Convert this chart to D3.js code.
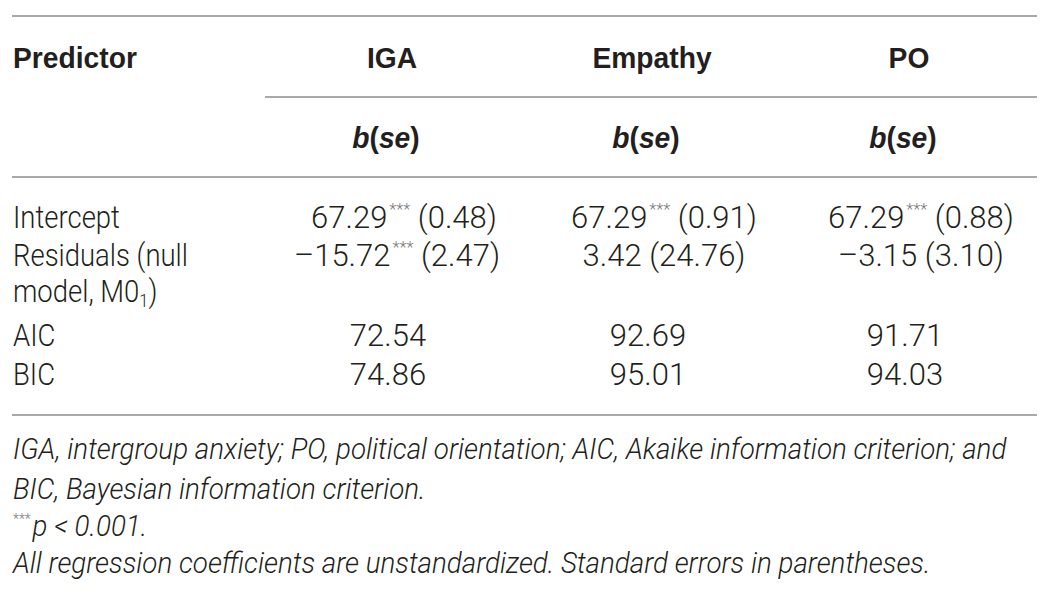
<!DOCTYPE html>
<html>
<head>
<meta charset="utf-8">
<script src="https://cdn.jsdelivr.net/npm/d3@7"></script>
<style>
  html, body { margin: 0; padding: 0; background: #ffffff; }
  svg { display: block; }
</style>
</head>
<body>
<svg id="chart" width="1052" height="596"></svg>
<script>
// ---- data ----
const columns = ["IGA", "Empathy", "PO"];
const rowLabels = ["Intercept", "Residuals (null", "model, M0", "AIC", "BIC"];
const coefB = [[67.29, 67.29, 67.29], [-15.72, 3.42, -3.15]];
const coefSE = [[0.48, 0.91, 0.88], [2.47, 24.76, 3.10]];
const coefSig = [[true, true, true], [true, false, false]];
const aicValues = [72.54, 92.69, 91.71];
const bicValues = [74.86, 95.01, 94.03];
const footnotes = [
  "IGA, intergroup anxiety; PO, political orientation; AIC, Akaike information criterion; and",
  "BIC, Bayesian information criterion.",
  "p < 0.001.",
  "All regression coefficients are unstandardized. Standard errors in parentheses."
];

// ---- layout ----
const svg = d3.select("#chart");
const ink = "#231f20";
const ruleColor = "#8c8c8c";
const left = 12, right = 1037;
const x = d3.scaleOrdinal().domain(columns).range([392, 652, 909]);
const rowBase = [228, 266, 302, 346, 385];
const rowY = i => rowBase[i];
const fmt = v => (v < 0 ? "\u2013" + d3.format(".2f")(-v) : d3.format(".2f")(v));

const bodyFont = "'Helvetica Neue', Roboto, 'Liberation Sans', Arial, sans-serif";
const boldFont = "'Liberation Sans', Arial, sans-serif";

// rules
const rules = [
  {y: 16, x1: left, x2: right},
  {y: 97, x1: 265, x2: right},
  {y: 177, x1: left, x2: right},
  {y: 415, x1: left, x2: right}
];
svg.selectAll("line.rule").data(rules).join("line")
  .attr("class", "rule")
  .attr("x1", d => d.x1).attr("x2", d => d.x2)
  .attr("y1", d => d.y).attr("y2", d => d.y)
  .attr("stroke", ruleColor).attr("stroke-width", 1.6);

function scaled(sel, sx) {
  sel.attr("transform", function() {
    const px = +this.getAttribute("data-x"), py = +this.getAttribute("data-y");
    return `translate(${px},${py}) scale(${sx},1)`;
  });
}

// header
const hdr = svg.append("g").attr("font-family", boldFont).attr("font-weight", 700)
  .attr("font-size", 29).attr("fill", ink);
hdr.append("text").attr("data-x", 13).attr("data-y", 68).text("Predictor");
hdr.selectAll("text.col").data(columns).join("text").attr("class", "col")
  .attr("text-anchor", "middle")
  .attr("data-x", d => x(d)).attr("data-y", 68).text(d => d);
const sub = hdr.selectAll("text.sub").data(columns).join("text").attr("class", "sub")
  .attr("text-anchor", "middle")
  .attr("data-x", d => x(d) - 6).attr("data-y", 148);
sub.append("tspan").attr("font-style", "italic").text("b");
sub.append("tspan").text("(");
sub.append("tspan").attr("font-style", "italic").text("se");
sub.append("tspan").text(")");
{
  const w = hdr.select("text").node().getComputedTextLength();
  scaled(hdr.selectAll("text"), 124 / w);
}

// body labels
const body = svg.append("g").attr("font-family", bodyFont).attr("font-weight", 300)
  .attr("font-size", 32).attr("fill", ink);
const labels = body.selectAll("text.lab").data(rowLabels).join("text").attr("class", "lab")
  .attr("data-x", 13).attr("data-y", (d, i) => rowY(i));
labels.text(d => d);
labels.filter((d, i) => i === 2).append("tspan").attr("font-size", 19).attr("dy", 5).text("1");
labels.filter((d, i) => i === 2).append("tspan").attr("dy", -5).text(")");
{
  const w = labels.filter((d, i) => i === 1).node().getComputedTextLength();
  scaled(labels, 175 / w);
}

// coefficient cells
const coefCells = [];
coefB.forEach((row, r) => row.forEach((b, c) => coefCells.push({r, c, b, se: coefSE[r][c], sig: coefSig[r][c]})));
const cc = body.selectAll("text.coef").data(coefCells).join("text").attr("class", "coef")
  .attr("text-anchor", "middle")
  .attr("data-x", d => x(columns[d.c]) + (d.r === 1 && d.c === 0 ? 5 : 12)).attr("data-y", d => rowY(d.r));
cc.append("tspan").text(d => fmt(d.b));
cc.filter(d => d.sig).append("tspan").attr("font-size", 17).attr("dy", -13).attr("dx", 2)
  .attr("fill", "#777").text("***");
cc.filter(d => d.sig).append("tspan").attr("dy", 13).text(d => " (" + fmt(d.se) + ")");
cc.filter(d => !d.sig).append("tspan").text(d => " (" + fmt(d.se) + ")");

const fitCells = [
  ...aicValues.map((v, c) => ({v, c, r: 3})),
  ...bicValues.map((v, c) => ({v, c, r: 4}))
];
const fc = body.selectAll("text.fit").data(fitCells).join("text").attr("class", "fit")
  .attr("text-anchor", "middle")
  .attr("data-x", d => x(columns[d.c]) - 4).attr("data-y", d => rowY(d.r))
  .text(d => fmt(d.v));
{
  const w = cc.node().getComputedTextLength();
  const sx = 184 / w;
  scaled(cc, sx);
  scaled(fc, sx);
}

// footnotes
const foot = svg.append("g").attr("font-family", bodyFont).attr("font-weight", 300)
  .attr("font-style", "italic").attr("font-size", 30).attr("fill", ink);
const ft = foot.selectAll("text").data(footnotes).join("text")
  .attr("data-x", 13).attr("data-y", (d, i) => [459, 499, 536, 573][i]);
ft.filter((d, i) => i === 2).append("tspan").attr("font-size", 15).attr("dy", -12)
  .attr("font-style", "normal").attr("fill", "#777").text("***");
ft.filter((d, i) => i === 2).append("tspan").attr("dy", 12).attr("dx", 2).text(d => d);
ft.filter((d, i) => i !== 2).text(d => d);
{
  const w = ft.node().getComputedTextLength();
  scaled(ft, 994 / w);
}
</script>
</body>
</html>
